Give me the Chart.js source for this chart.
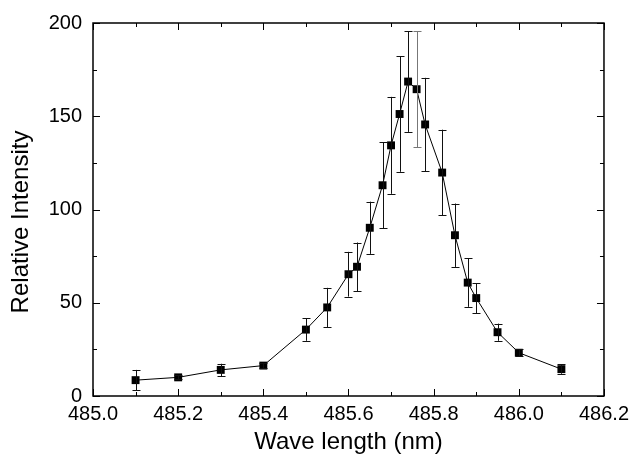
<!DOCTYPE html>
<html>
<head>
<meta charset="utf-8">
<script src="https://cdn.jsdelivr.net/npm/chart.js@4.4.1/dist/chart.umd.min.js"></script>
<style>
  html, body { margin: 0; padding: 0; background: #fff; }
  #wrap { width: 635px; height: 457px; }
</style>
</head>
<body>
<div id="wrap"><canvas id="chart"></canvas></div>
<script>
// wavelength (nm)
var wavelengths = [485.1, 485.2, 485.3, 485.4, 485.5, 485.55, 485.6, 485.62, 485.65, 485.68, 485.7,
                   485.72, 485.74, 485.76, 485.78, 485.82, 485.85, 485.88, 485.9, 485.95, 486.0, 486.1];
// relative intensity
var intensity = [8.5, 10, 14, 16.3, 35.6, 47.5, 65.3, 69.3, 90.2, 113, 134.4,
                 151.2, 168.6, 164.5, 145.6, 119.8, 86.2, 60.8, 52.5, 34.2, 23.2, 14.4];
// error (+/-)
var errors = [5.5, 1, 3.3, 1.5, 6, 10.5, 12, 13, 14, 23, 26,
              31, 27, 31, 25, 23, 17, 13, 8, 4.6, 2, 2.5];

var xTicks = [485.0, 485.2, 485.4, 485.6, 485.8, 486.0, 486.2];
var yTicks = [0, 50, 100, 150, 200];

var FONT = "'Liberation Sans', Arial, sans-serif";

var points = wavelengths.map(function(x, i) { return {x: x, y: intensity[i]}; });

// error bars, box and inward ticks
var extras = {
  id: 'extras',
  afterDatasetsDraw: function(chart) {
    var ctx = chart.ctx, xs = chart.scales.x, ys = chart.scales.y;
    ctx.save();
    ctx.lineWidth = 1;
    for (var i = 0; i < wavelengths.length; i++) {
      var px = Math.round(xs.getPixelForValue(wavelengths[i])) + 0.5;
      var top = ys.getPixelForValue(intensity[i] + errors[i]);
      var bot = ys.getPixelForValue(intensity[i] - errors[i]);
      ctx.strokeStyle = (wavelengths[i] === 485.76) ? '#777' : '#111';
      ctx.beginPath();
      ctx.moveTo(px, top); ctx.lineTo(px, bot);
      ctx.moveTo(px - 4, Math.round(top) + 0.5); ctx.lineTo(px + 4, Math.round(top) + 0.5);
      ctx.moveTo(px - 4, Math.round(bot) + 0.5); ctx.lineTo(px + 4, Math.round(bot) + 0.5);
      ctx.stroke();
    }
    ctx.restore();
  },
  afterDraw: function(chart) {
    var ctx = chart.ctx, xs = chart.scales.x, ys = chart.scales.y, a = chart.chartArea;
    ctx.save();
    ctx.strokeStyle = '#000';
    ctx.lineWidth = 1.5;
    ctx.strokeRect(a.left, a.top, a.right - a.left, a.bottom - a.top);
    ctx.lineWidth = 1;
    ctx.beginPath();
    var i, p, v;
    for (i = 0; i < xTicks.length; i++) {
      p = Math.round(xs.getPixelForValue(xTicks[i])) + 0.5;
      ctx.moveTo(p, a.bottom); ctx.lineTo(p, a.bottom - 7);
      ctx.moveTo(p, a.top); ctx.lineTo(p, a.top + 7);
      if (i < xTicks.length - 1) {
        v = (xTicks[i] + xTicks[i + 1]) / 2;
        p = Math.round(xs.getPixelForValue(v)) + 0.5;
        ctx.moveTo(p, a.bottom); ctx.lineTo(p, a.bottom - 4);
        ctx.moveTo(p, a.top); ctx.lineTo(p, a.top + 4);
      }
    }
    for (i = 0; i < yTicks.length; i++) {
      p = Math.round(ys.getPixelForValue(yTicks[i])) + 0.5;
      ctx.moveTo(a.left, p); ctx.lineTo(a.left + 7, p);
      ctx.moveTo(a.right, p); ctx.lineTo(a.right - 7, p);
      if (i < yTicks.length - 1) {
        v = (yTicks[i] + yTicks[i + 1]) / 2;
        p = Math.round(ys.getPixelForValue(v)) + 0.5;
        ctx.moveTo(a.left, p); ctx.lineTo(a.left + 4, p);
        ctx.moveTo(a.right, p); ctx.lineTo(a.right - 4, p);
      }
    }
    ctx.stroke();

    // y title (sits a bit below the axis middle in the original)
    ctx.fillStyle = '#000';
    ctx.font = '24px ' + FONT;
    ctx.textAlign = 'center';
    ctx.textBaseline = 'alphabetic';
    ctx.translate(28, 222);
    ctx.rotate(-Math.PI / 2);
    ctx.fillText('Relative Intensity', 0, 0);
    ctx.restore();
  }
};

new Chart(document.getElementById('chart'), {
  type: 'line',
  data: {
    datasets: [{
      data: points,
      borderColor: '#000',
      borderWidth: 1,
      backgroundColor: '#000',
      pointStyle: 'rect',
      pointRadius: 5.6,
      pointBorderWidth: 0,
      tension: 0,
      fill: false
    }]
  },
  options: {
    responsive: true,
    maintainAspectRatio: false,
    animation: false,
    layout: { padding: { top: 20, right: 27, left: 0, bottom: 0 } },
    plugins: { legend: { display: false }, tooltip: { enabled: false } },
    scales: {
      x: {
        type: 'linear',
        min: 485.0, max: 486.2,
        afterBuildTicks: function(s) { s.ticks = xTicks.map(function(v) { return {value: v}; }); },
        afterFit: function(s) { s.height = 61; },
        grid: { display: false, drawTicks: false },
        border: { display: false },
        ticks: {
          color: '#000', padding: 6, maxRotation: 0, autoSkip: false,
          font: { family: FONT, size: 20 },
          callback: function(v) { return Number(v).toFixed(1); }
        },
        title: {
          display: true, text: 'Wave length (nm)', color: '#000',
          font: { family: FONT, size: 24 }, padding: { top: 0, bottom: 0 }
        }
      },
      y: {
        min: 0, max: 200,
        afterBuildTicks: function(s) { s.ticks = yTicks.map(function(v) { return {value: v}; }); },
        afterFit: function(s) { s.width = 93; },
        grid: { display: false, drawTicks: false },
        border: { display: false },
        ticks: {
          color: '#000', padding: 11,
          font: { family: FONT, size: 20 }
        }
      }
    }
  },
  plugins: [extras]
});
</script>
</body>
</html>
